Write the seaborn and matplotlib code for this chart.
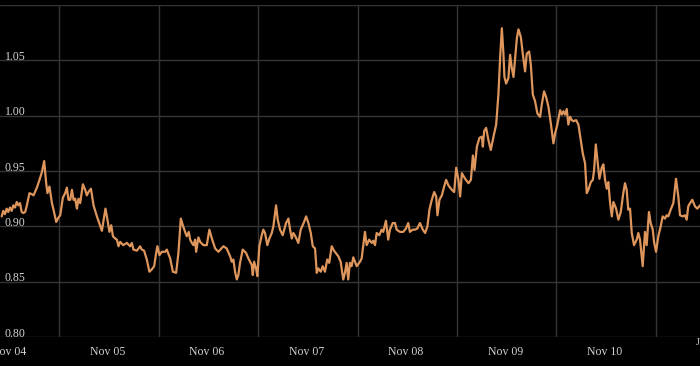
import pandas as pd
import matplotlib.pyplot as plt
import matplotlib.dates as mdates
import matplotlib.transforms as mtransforms
import seaborn as sns

# dates as decimal years
years = [
    2004.770, 2004.786, 2004.803, 2004.820, 2004.836, 2004.854, 2004.871, 2004.887, 2004.904, 2004.921,
    2004.937, 2004.954, 2004.971, 2004.987, 2005.004, 2005.021, 2005.047, 2005.072, 2005.088, 2005.122,
    2005.155, 2005.172, 2005.195, 2005.215, 2005.228, 2005.248, 2005.273, 2005.289, 2005.316, 2005.339,
    2005.356, 2005.383, 2005.406, 2005.423, 2005.439, 2005.457, 2005.474, 2005.490, 2005.507, 2005.524,
    2005.540, 2005.557, 2005.584, 2005.607, 2005.624, 2005.640, 2005.665, 2005.691, 2005.725, 2005.775,
    2005.798, 2005.811, 2005.831, 2005.851, 2005.869, 2005.886, 2005.909, 2005.926, 2005.942, 2005.959,
    2005.989, 2006.026, 2006.060, 2006.077, 2006.093, 2006.127, 2006.160, 2006.177, 2006.200, 2006.227,
    2006.253, 2006.277, 2006.301, 2006.321, 2006.334, 2006.354, 2006.378, 2006.411, 2006.428, 2006.462,
    2006.489, 2006.522, 2006.545, 2006.569, 2006.589, 2006.612, 2006.629, 2006.649, 2006.663, 2006.680,
    2006.696, 2006.713, 2006.723, 2006.746, 2006.763, 2006.796, 2006.830, 2006.856, 2006.881, 2006.914,
    2006.947, 2006.997, 2007.031, 2007.065, 2007.082, 2007.098, 2007.115, 2007.132, 2007.148, 2007.165,
    2007.192, 2007.225, 2007.249, 2007.283, 2007.293, 2007.306, 2007.326, 2007.339, 2007.359, 2007.383,
    2007.399, 2007.416, 2007.439, 2007.460, 2007.484, 2007.500, 2007.527, 2007.544, 2007.567, 2007.594,
    2007.627, 2007.651, 2007.668, 2007.685, 2007.701, 2007.721, 2007.751, 2007.775, 2007.809, 2007.829,
    2007.852, 2007.876, 2007.896, 2007.919, 2007.936, 2007.952, 2007.976, 2007.996, 2008.019, 2008.042,
    2008.062, 2008.087, 2008.110, 2008.153, 2008.177, 2008.203, 2008.220, 2008.237, 2008.253, 2008.270,
    2008.287, 2008.304, 2008.338, 2008.371, 2008.388, 2008.421, 2008.438, 2008.464, 2008.489, 2008.505,
    2008.522, 2008.539, 2008.565, 2008.589, 2008.605, 2008.632, 2008.655, 2008.672, 2008.700, 2008.723,
    2008.740, 2008.773, 2008.806, 2008.833, 2008.856, 2008.873, 2008.901, 2008.924, 2008.947, 2008.974,
    2009.001, 2009.024, 2009.047, 2009.067, 2009.091, 2009.115, 2009.135, 2009.148, 2009.168, 2009.192,
    2009.215, 2009.235, 2009.258, 2009.292, 2009.316, 2009.336, 2009.359, 2009.376, 2009.393, 2009.426,
    2009.460, 2009.484, 2009.504, 2009.520, 2009.544, 2009.570, 2009.594, 2009.604, 2009.617, 2009.637,
    2009.660, 2009.684, 2009.711, 2009.738, 2009.761, 2009.778, 2009.795, 2009.811, 2009.821, 2009.838,
    2009.861, 2009.878, 2009.895, 2009.912, 2009.929, 2009.946, 2009.962, 2009.986, 2010.006, 2010.029,
    2010.046, 2010.070, 2010.087, 2010.107, 2010.130, 2010.153, 2010.180, 2010.197, 2010.220, 2010.240,
    2010.264, 2010.288, 2010.314, 2010.331, 2010.354, 2010.381, 2010.398, 2010.414, 2010.431, 2010.448,
    2010.464, 2010.482, 2010.499, 2010.515, 2010.542, 2010.565, 2010.589, 2010.609, 2010.632, 2010.649,
    2010.665, 2010.690, 2010.710, 2010.723, 2010.740, 2010.756, 2010.776, 2010.800, 2010.816, 2010.833,
    2010.850, 2010.866, 2010.884, 2010.901, 2010.917, 2010.944, 2010.967, 2010.991, 2011.017, 2011.034,
    2011.051, 2011.067, 2011.085, 2011.102, 2011.125, 2011.152, 2011.168, 2011.185, 2011.212, 2011.225,
    2011.235, 2011.252, 2011.275, 2011.292, 2011.313, 2011.326, 2011.346, 2011.369, 2011.393, 2011.413,
    2011.436, 2011.453, 2011.469, 2011.493, 2011.520, 2011.547, 2011.570, 2011.587, 2011.614, 2011.637,
    2011.654, 2011.670, 2011.688, 2011.711, 2011.738, 2011.761, 2011.788,
]
values = [
    0.909, 0.914, 0.911, 0.916, 0.913, 0.917, 0.914, 0.919, 0.917, 0.922,
    0.919, 0.921, 0.913, 0.912, 0.913, 0.919, 0.930, 0.929, 0.928, 0.935,
    0.944, 0.949, 0.959, 0.939, 0.930, 0.936, 0.921, 0.915, 0.904, 0.908,
    0.910, 0.926, 0.930, 0.935, 0.924, 0.924, 0.933, 0.924, 0.925, 0.916,
    0.925, 0.921, 0.938, 0.933, 0.928, 0.931, 0.934, 0.919, 0.909, 0.896,
    0.909, 0.916, 0.906, 0.895, 0.901, 0.891, 0.889, 0.888, 0.882, 0.886,
    0.883, 0.885, 0.882, 0.885, 0.879, 0.878, 0.882, 0.879, 0.878, 0.870,
    0.859, 0.861, 0.864, 0.876, 0.882, 0.874, 0.877, 0.877, 0.879, 0.871,
    0.859, 0.858, 0.876, 0.907, 0.901, 0.895, 0.891, 0.895, 0.888, 0.885,
    0.883, 0.888, 0.877, 0.890, 0.886, 0.883, 0.883, 0.897, 0.889, 0.880,
    0.877, 0.882, 0.880, 0.873, 0.868, 0.870, 0.859, 0.852, 0.856, 0.867,
    0.879, 0.876, 0.871, 0.865, 0.856, 0.868, 0.862, 0.855, 0.882, 0.892,
    0.897, 0.894, 0.883, 0.889, 0.894, 0.900, 0.919, 0.906, 0.897, 0.892,
    0.903, 0.907, 0.897, 0.889, 0.894, 0.891, 0.885, 0.897, 0.904, 0.909,
    0.903, 0.894, 0.882, 0.880, 0.858, 0.862, 0.859, 0.864, 0.859, 0.870,
    0.867, 0.882, 0.878, 0.873, 0.868, 0.852, 0.858, 0.867, 0.852, 0.867,
    0.864, 0.872, 0.864, 0.868, 0.871, 0.895, 0.883, 0.888, 0.885, 0.887,
    0.883, 0.894, 0.892, 0.897, 0.895, 0.905, 0.888, 0.897, 0.903, 0.903,
    0.897, 0.895, 0.895, 0.898, 0.903, 0.895, 0.897, 0.897, 0.898, 0.903,
    0.897, 0.894, 0.900, 0.915, 0.924, 0.931, 0.927, 0.910, 0.924, 0.928,
    0.936, 0.942, 0.937, 0.933, 0.931, 0.953, 0.942, 0.927, 0.948, 0.943,
    0.939, 0.942, 0.964, 0.951, 0.972, 0.980, 0.981, 0.972, 0.986, 0.989,
    0.978, 0.969, 0.981, 0.992, 1.020, 1.053, 1.079, 1.056, 1.035, 1.029,
    1.034, 1.055, 1.043, 1.035, 1.052, 1.070, 1.078, 1.071, 1.056, 1.040,
    1.056, 1.058, 1.046, 1.019, 1.013, 1.002, 0.999, 1.010, 1.022, 1.017,
    1.008, 0.993, 0.975, 0.984, 0.992, 1.005, 1.001, 1.004, 1.001, 1.006,
    0.992, 0.999, 0.996, 0.995, 0.996, 0.992, 0.978, 0.966, 0.957, 0.930,
    0.933, 0.940, 0.942, 0.951, 0.974, 0.960, 0.943, 0.953, 0.956, 0.942,
    0.934, 0.940, 0.921, 0.909, 0.922, 0.916, 0.906, 0.913, 0.930, 0.939,
    0.933, 0.915, 0.916, 0.894, 0.883, 0.888, 0.894, 0.888, 0.864, 0.882,
    0.895, 0.883, 0.913, 0.903, 0.897, 0.886, 0.877, 0.891, 0.900, 0.909,
    0.907, 0.910, 0.909, 0.915, 0.921, 0.943, 0.927, 0.910, 0.909, 0.910,
    0.906, 0.918, 0.921, 0.924, 0.918, 0.916, 0.919,
]
y_ticks = [0.80, 0.85, 0.90, 0.95, 1.00, 1.05, 1.10]
x_start, x_end = 2004.753, 2011.788


def to_date(t):
    yr = int(t)
    return pd.Timestamp(yr, 1, 1) + pd.Timedelta(days=(t - yr) * 365.25)


df = pd.DataFrame({"date": [to_date(t) for t in years], "value": values})

sns.set_theme(style="dark", rc={"axes.facecolor": "black", "figure.facecolor": "black"})
plt.rcParams["font.family"] = ["Liberation Serif", "DejaVu Serif"]

txt_color = "#d2d2d2"
grid_color = "#343434"

fig = plt.figure(figsize=(7, 3.66), dpi=100)
ax = fig.add_axes([0, 0.0792, 1, 0.9071])

sns.lineplot(data=df, x="date", y="value", color="#de965c", linewidth=1.6, ax=ax)

ax.set_xlim(to_date(x_start), to_date(x_end))
ax.set_ylim(0.80, 1.10)
for s in ax.spines.values():
    s.set_visible(False)

# x: labels at Nov, gridlines half a year off
ax.xaxis.set_major_locator(mdates.MonthLocator(bymonth=11, bymonthday=1))
ax.xaxis.set_major_formatter(mdates.DateFormatter("%b %y"))
ax.xaxis.set_minor_locator(mdates.MonthLocator(bymonth=5, bymonthday=7))
ax.tick_params(axis="x", which="both", length=0, pad=6.5, labelsize=8.5, labelcolor=txt_color)
ax.grid(False)
ax.grid(True, axis="x", which="minor", color=grid_color, linewidth=1)

# y: gridlines with labels drawn inside the plot
ax.set_yticks(y_ticks)
ax.set_yticklabels([])
ax.tick_params(axis="y", length=0)
ax.grid(True, axis="y", which="major", color=grid_color, linewidth=1)
trans = mtransforms.blended_transform_factory(ax.transAxes, ax.transData)
for v in y_ticks[:-1]:
    ax.text(0.007, v - 0.0025, f"{v:.2f}", transform=trans, ha="left", va="bottom",
            fontsize=8.5, color=txt_color)

ax.set_xlabel("")
ax.set_ylabel("")
fig.text(0.994, 0.065, "J", fontsize=7.5, color=txt_color, ha="left", va="center")

fig.savefig("out.png", dpi=100, facecolor="black")
